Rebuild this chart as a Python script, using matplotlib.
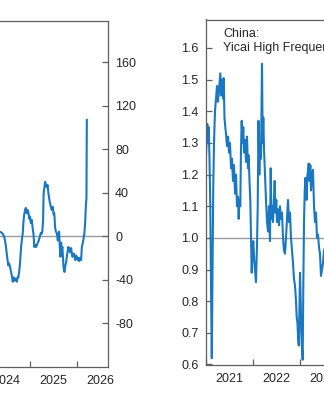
import numpy as np
import matplotlib
matplotlib.use('Agg')
import matplotlib.pyplot as plt

plt.rcParams['font.family'] = ['Liberation Sans', 'DejaVu Sans']

# left panel (cropped): series in index points, x in fractional years
left_years = [2024.298, 2024.362, 2024.404, 2024.447, 2024.468, 2024.489, 2024.504, 2024.521,
              2024.538, 2024.553, 2024.574, 2024.596, 2024.611, 2024.632, 2024.649, 2024.666,
              2024.681, 2024.702, 2024.717, 2024.734, 2024.751, 2024.770, 2024.787, 2024.809,
              2024.830, 2024.845, 2024.857, 2024.872, 2024.894, 2024.909, 2024.930, 2024.947,
              2024.964, 2024.985, 2025.000, 2025.015, 2025.036, 2025.053, 2025.070, 2025.091,
              2025.106, 2025.128, 2025.155, 2025.177, 2025.198, 2025.228, 2025.245, 2025.262,
              2025.277, 2025.287, 2025.304, 2025.319, 2025.334, 2025.355, 2025.372, 2025.389,
              2025.411, 2025.426, 2025.447, 2025.462, 2025.483, 2025.500, 2025.515, 2025.532,
              2025.549, 2025.568, 2025.589, 2025.602, 2025.617, 2025.632, 2025.645, 2025.660,
              2025.674, 2025.687, 2025.709, 2025.730, 2025.745, 2025.762, 2025.781, 2025.798,
              2025.815, 2025.834, 2025.851, 2025.872, 2025.900, 2025.921, 2025.936, 2025.957,
              2025.979, 2025.994, 2026.011, 2026.028, 2026.047, 2026.064, 2026.085, 2026.100,
              2026.121, 2026.134, 2026.155, 2026.170, 2026.185, 2026.198, 2026.206]
left_values = [2, 4, 3, 0, -4, -10, -16, -22,
               -27, -25, -28, -33, -36, -42, -38, -41,
               -39, -40, -42, -38, -38, -32, -25, -10,
               -2, 3, 12, 19, 24, 26, 21, 24,
               22, 16, 18, 12, 15, 8, 3, -10,
               -8, -10, -7, -5, -2, 3, 2, 5,
               15, 38, 45, 50, 48, 45, 47, 40,
               33, 30, 26, 24, 27, 20, 21, 8,
               4, 3, -4, -1, 4, -10, -19, -6,
               -12, -10, -28, -33, -28, -25, -19, -14,
               -10, -12, -15, -11, -19, -17, -16, -22,
               -18, -19, -22, -20, -23, -20, -22, -10,
               -6, -3, 3, 12, 27, 35, 107]
left_ticks = [-80, -40, 0, 40, 80, 120, 160]

# right panel (cropped): China, Yicai High Frequency index (ratio)
right_years = [2021.000, 2021.021, 2021.038, 2021.053, 2021.068, 2021.085, 2021.102, 2021.117,
               2021.134, 2021.149, 2021.164, 2021.181, 2021.202, 2021.223, 2021.245, 2021.266,
               2021.287, 2021.315, 2021.330, 2021.351, 2021.372, 2021.387, 2021.404, 2021.421,
               2021.436, 2021.457, 2021.479, 2021.500, 2021.521, 2021.543, 2021.564, 2021.585,
               2021.606, 2021.628, 2021.649, 2021.670, 2021.691, 2021.706, 2021.723, 2021.740,
               2021.755, 2021.770, 2021.787, 2021.804, 2021.819, 2021.840, 2021.862, 2021.883,
               2021.904, 2021.919, 2021.936, 2021.953, 2021.968, 2021.983, 2022.000, 2022.017,
               2022.036, 2022.053, 2022.074, 2022.096, 2022.111, 2022.128, 2022.145, 2022.160,
               2022.181, 2022.202, 2022.217, 2022.230, 2022.245, 2022.266, 2022.287, 2022.309,
               2022.330, 2022.351, 2022.372, 2022.387, 2022.404, 2022.421, 2022.436, 2022.457,
               2022.472, 2022.489, 2022.506, 2022.521, 2022.543, 2022.564, 2022.585, 2022.606,
               2022.628, 2022.649, 2022.670, 2022.691, 2022.713, 2022.734, 2022.755, 2022.777,
               2022.798, 2022.819, 2022.840, 2022.862, 2022.883, 2022.904, 2022.926, 2022.940,
               2022.957, 2022.972, 2022.985, 2023.000, 2023.011, 2023.026, 2023.038, 2023.053,
               2023.068, 2023.081, 2023.096, 2023.111, 2023.128, 2023.149, 2023.170, 2023.196,
               2023.213, 2023.230, 2023.245, 2023.266, 2023.287, 2023.309, 2023.330, 2023.351,
               2023.372, 2023.394, 2023.415, 2023.436, 2023.457, 2023.479, 2023.500, 2023.521,
               2023.564]
right_values = [1.22, 1.30, 1.36, 1.30, 1.35, 1.25, 1.10, 0.85,
                0.62, 0.90, 1.15, 1.30, 1.40, 1.44, 1.48, 1.43,
                1.47, 1.52, 1.45, 1.50, 1.44, 1.505, 1.38, 1.35,
                1.33, 1.29, 1.32, 1.27, 1.30, 1.22, 1.25, 1.18,
                1.23, 1.14, 1.20, 1.10, 1.13, 1.06, 1.12, 1.10,
                1.28, 1.37, 1.30, 1.35, 1.27, 1.31, 1.24, 1.32,
                1.22, 1.26, 1.18, 1.12, 1.00, 0.89, 0.96, 0.99,
                0.93, 0.90, 0.86, 0.98, 1.10, 1.37, 1.20, 1.30,
                1.25, 1.55, 1.30, 1.38, 1.28, 1.20, 1.12, 1.05,
                1.02, 1.10, 0.99, 1.22, 1.06, 1.10, 1.05, 1.12,
                1.18, 1.08, 1.12, 1.05, 1.09, 1.04, 1.10, 1.06,
                1.08, 1.00, 0.96, 0.95, 1.00, 1.06, 1.12, 1.05,
                1.08, 1.00, 0.96, 0.92, 0.87, 0.85, 0.80, 0.75,
                0.73, 0.68, 0.66, 0.80, 0.89, 0.80, 0.70, 0.65,
                0.615, 0.85, 1.05, 1.15, 1.19, 1.12, 1.20, 1.235,
                1.18, 1.23, 1.15, 1.20, 1.215, 1.10, 1.05, 1.08,
                1.00, 1.01, 0.97, 0.95, 0.88, 0.90, 0.92, 0.96,
                0.98]
right_ticks = [0.6, 0.7, 0.8, 0.9, 1.0, 1.1, 1.2, 1.3, 1.4, 1.5, 1.6]

LINE_COLOR = '#1a78c2'
SPINE_COLOR = '#5f5f5f'
ZERO_COLOR = '#9a9a9a'
TEXT_COLOR = '#262626'
FS = 9

W, H = 324.0, 400.0


def px_box(x0, x1, ytop, ybot):
    # axes rectangle from pixel edges
    return [x0 / W, 1 - ybot / H, (x1 - x0) / W, (ybot - ytop) / H]


def style_axes(ax, years_major, years_label):
    for s in ax.spines.values():
        s.set_color(SPINE_COLOR)
        s.set_linewidth(0.9)
    ax.set_xticks(years_major)
    ax.set_xticklabels([])
    ax.set_xticks(years_label, minor=True)
    ax.set_xticklabels([str(int(y)) for y in years_label], minor=True)
    ax.tick_params(axis='x', which='major', direction='in', length=4,
                   color=SPINE_COLOR, width=0.9)
    ax.tick_params(axis='x', which='minor', length=0, pad=6,
                   labelsize=FS, labelcolor=TEXT_COLOR)
    ax.tick_params(axis='y', direction='in', length=4, color=SPINE_COLOR,
                   width=0.9, pad=5, labelsize=FS, labelcolor=TEXT_COLOR)


fig = plt.figure(figsize=(3.24, 4.0), dpi=100)

# left panel, mostly outside the crop
ax1 = fig.add_axes(px_box(-17, 108.2, 21, 366.5))
ax1.axhline(0, color=ZERO_COLOR, lw=1.0, zorder=1)
ax1.plot(left_years, left_values, color=LINE_COLOR, lw=1.5, zorder=2)
ax1.set_xlim(2024.0, 2026.66)
ax1.set_ylim(-120, 198)
ax1.yaxis.tick_right()
ax1.set_yticks(left_ticks)
ax1.set_yticklabels([str(t) for t in left_ticks])
style_axes(ax1, [2024, 2025, 2026], [2024.5, 2025.5, 2026.5])
ax1.tick_params(axis='y', which='both', left=False, right=True,
                labelleft=False, labelright=True)

# right panel, runs off the right edge
ax2 = fig.add_axes(px_box(205.5, 440.5, 19.5, 364.5))
ax2.axhline(1.0, color=ZERO_COLOR, lw=1.0, zorder=1)
ax2.plot(right_years, right_values, color=LINE_COLOR, lw=1.5, zorder=2)
ax2.set_xlim(2021.0, 2026.0)
ax2.set_ylim(0.6, 1.69)
ax2.set_yticks(right_ticks)
ax2.set_yticklabels(['%.1f' % t for t in right_ticks])
style_axes(ax2, [2021, 2022, 2023, 2024, 2025, 2026],
           [2021.5, 2022.5, 2023.5, 2024.5, 2025.5])
ax2.text(0.075, 0.975, 'China:\nYicai High Frequency Index', transform=ax2.transAxes,
         ha='left', va='top', fontsize=FS, color=TEXT_COLOR, linespacing=1.25)

fig.savefig('out.png', dpi=100)
